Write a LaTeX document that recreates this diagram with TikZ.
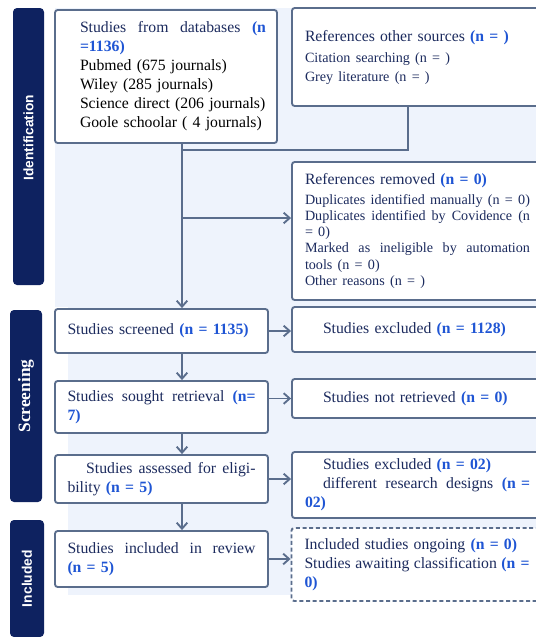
\documentclass[tikz,border=0pt]{standalone}
\usepackage{fontspec}
\setmainfont{Liberation Serif}
\newfontfamily\barsans{Liberation Sans}
\usetikzlibrary{arrows.meta}
\definecolor{navybar}{HTML}{0E2260}
\definecolor{navytext}{HTML}{1C2B5E}
\definecolor{nblue}{HTML}{1F55D4}
\definecolor{edgegray}{HTML}{5A6D8C}
\definecolor{paleblue}{HTML}{EEF3FC}
\newcommand{\nn}[1]{{\bfseries\color{nblue}#1}}
\newcommand{\fmain}{\fontsize{11.8}{14.25}\selectfont}
\newcommand{\fsub}{\fontsize{10.6}{12.2}\selectfont}
\setlength{\parindent}{0pt}
\hyphenpenalty=10000
\tikzset{>/.tip={Straight Barb[length=4.5pt,width=8pt]},
  box/.style={draw=edgegray, line width=1.4pt, rounded corners=2pt, fill=white,
    align=left, text=navytext, font=\fmain, inner sep=0pt},
  lbox/.style={box, minimum width=159.75pt, text width=141pt},
  rbox/.style={box, minimum width=188.25pt, text width=168.75pt},
  phase/.style={fill=navybar, rounded corners=3pt, text=white, rotate=90, inner sep=0pt},
  link/.style={draw=edgegray, line width=1.4pt}}

\begin{document}
\begin{tikzpicture}[x=0.75pt,y=-0.75pt]
\useasboundingbox (0,0) rectangle (536,637);
\clip (0,0) rectangle (536,637);
% pale panel behind the flow
\fill[paleblue] (55,8) rectangle (536,307);
\fill[paleblue] (68,307) rectangle (536,595);

% stages
\node[phase, minimum width=207.75pt, minimum height=23.25pt, font=\barsans\bfseries\fontsize{10.3}{12}\selectfont] (id) at (28.5,146.5) {\hspace*{13pt}Identification};
\node[phase, minimum width=144pt, minimum height=24pt, font=\bfseries\fontsize{13}{15}\selectfont] (scr) at (26,406) {\hspace*{15pt}Screening};
\node[phase, minimum width=87.75pt, minimum height=25.5pt, font=\barsans\bfseries\fontsize{10.4}{12}\selectfont] (inc) at (27,578.5) {Included};

% boxes
\node[box, minimum width=166.5pt, minimum height=99.75pt, text width=150pt] (db) at (166,76.5)
  {\leftskip=10.5pt Studies\hfill from\hfill databases\hfill \nn{(n}\\ \nn{=1136)}\par
   \color{black}Pubmed (675 journals)\\ Wiley (285 journals)\\ Science direct (206 journals)\\ Goole schoolar ( 4 journals)\par};
\node[rbox, minimum height=73.5pt] (other) at (417.5,57)
  {References other sources \nn{(n = )}\par\vspace{1.5pt}
   {\fontsize{10.6}{14.25}\selectfont Citation searching (n = )\\ Grey literature (n = )\par}};
\node[rbox, minimum height=103.5pt] (removed) at (417.5,231)
  {References removed \nn{(n = 0)}\par\vspace{2.4pt}
   {\fsub Duplicates identified manually (n = 0)\\
    Duplicates\hfill identified\hfill by\hfill Covidence\hfill (n\\ = 0)\\
    Marked\hfill as\hfill ineligible\hfill by\hfill automation\\ tools (n = 0)\\
    Other reasons (n = )\par}};
\node[lbox, minimum height=33pt] (screened) at (161.5,331) {Studies screened \nn{(n = 1135)}};
\node[rbox, minimum height=33.75pt] (excl-1) at (417.5,329.5) {\hspace*{13.5pt}Studies excluded \nn{(n = 1128)}};
\node[lbox, minimum height=39pt] (sought) at (161.5,407)
  {Studies\hfill sought\hfill retrieval\hfill \nn{(n=}\\ \nn{7)}};
\node[rbox, minimum height=29.25pt] (notret) at (417.5,398.5) {\hspace*{13.5pt}Studies not retrieved \nn{(n = 0)}};
\node[lbox, minimum height=36pt] (assessed) at (161.5,479)
  {\hspace*{14pt}Studies\hfill assessed\hfill for\hfill eligi-\\ bility \nn{(n = 5)}};
\node[rbox, minimum height=49.5pt] (excl-2) at (417.5,485)
  {\hspace*{13.5pt}Studies excluded \nn{(n = 02)}\\
   \hspace*{13.5pt}different\hfill research\hfill designs\hfill \nn{(n =}\\ \nn{02)}};
\node[lbox, minimum height=42pt] (included) at (161.5,559)
  {Studies\hfill included\hfill in\hfill review\\ \nn{(n = 5)}};
\node[rbox, dashed, dash pattern=on 3pt off 2pt, minimum height=54.75pt] (ongoing) at (417,564.5)
  {Included studies ongoing \nn{(n = 0)}\\
   Studies\hfill awaiting\hfill classification\hfill \nn{(n =}\\ \nn{0)}};

% connectors
\coordinate (spine) at (182,150);
\coordinate (tap) at (408,150);
\coordinate (rm) at (182,218);
\draw[link] (other.south -| tap) -- (tap) -- (spine);
\draw[link,->] (db.south -| spine) -- (screened.north -| spine);
\draw[link,->] (rm) -- (rm -| removed.west);
\draw[link,->] (screened.south -| spine) -- (sought.north -| spine);
\draw[link,->] (sought.south -| spine) -- (assessed.north -| spine);
\draw[link,->] (assessed.south -| spine) -- (included.north -| spine);
\draw[link,->] (screened.east) -- (screened.east -| excl-1.west);
\draw[link,->] (notret.west -| sought.east) -- (notret.west);
\draw[link,->] (assessed.east) -- (assessed.east -| excl-2.west);
\draw[link,->] (included.east) -- (included.east -| ongoing.west);
\end{tikzpicture}
\end{document}
